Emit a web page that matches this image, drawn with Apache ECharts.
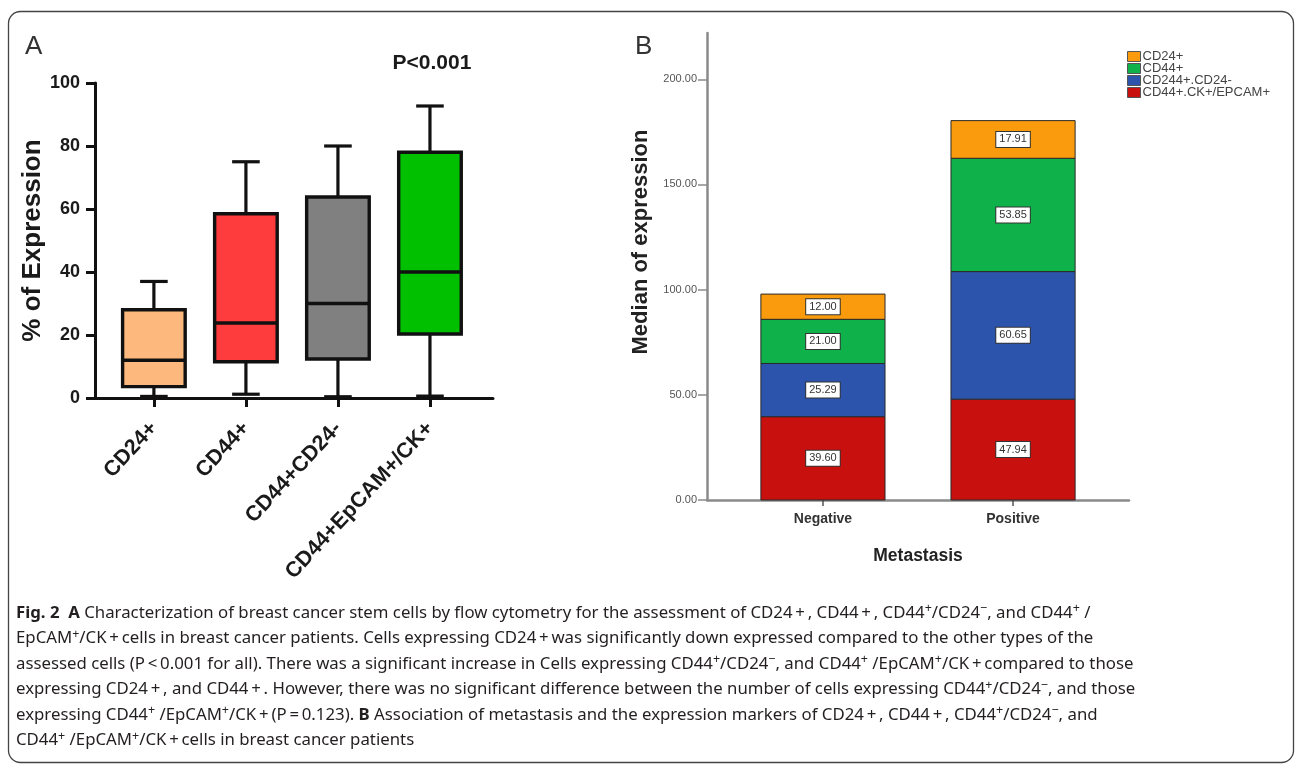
<!DOCTYPE html>
<html>
<head>
<meta charset="utf-8">
<script src="https://cdn.jsdelivr.net/npm/echarts@6/dist/echarts.min.js"></script>
<style>
html,body{margin:0;padding:0;background:#fff;}
#chart{width:1295px;height:766px;}
</style>
</head>
<body>
<div id="chart"></div>
<script>
// ---------- Panel A data (box plots, % of expression) ----------
const boxCats = ['CD24+', 'CD44+', 'CD44+CD24-', 'CD44+EpCAM+/CK+'];
const boxMin = [0.5, 1.2, 0.4, 0.6];
const boxQ1 = [3.6, 11.5, 12.4, 20.3];
const boxMedian = [12, 23.8, 30, 40];
const boxQ3 = [28, 58.5, 63.8, 78];
const boxMax = [37, 75, 80, 92.7];
const yTicksA = [0, 20, 40, 60, 80, 100];

// ---------- Panel B data (stacked median of expression) ----------
const metCats = ['Negative', 'Positive'];
const segNames = ['CD44+.CK+/EPCAM+', 'CD244+.CD24-', 'CD44+', 'CD24+']; // bottom -> top
const valCD44CK = [39.60, 47.94];
const valCD244 = [25.29, 60.65];
const valCD44 = [21.00, 53.85];
const valCD24 = [12.00, 17.91];
const yTicksB = [0, 50, 100, 150, 200];
const legendOrder = ['CD24+', 'CD44+', 'CD244+.CD24-', 'CD44+.CK+/EPCAM+'];

// ---------- styles ----------
const boxColors = ['#FDB97D', '#FE3B3D', '#808080', '#00C000'];
const segColors = ['#C8100F', '#2C54AC', '#0FB14A', '#F99B0C'];
const segValues = [valCD44CK, valCD244, valCD44, valCD24];

const chart = echarts.init(document.getElementById('chart'), null, {renderer: 'canvas'});

const boxData = boxCats.map((c, i) => [i, boxMin[i], boxQ1[i], boxMedian[i], boxQ3[i], boxMax[i]]);

function renderBox(params, api) {
  const x = api.value(0);
  const pMin = api.coord([x, api.value(1)]);
  const pQ1 = api.coord([x, api.value(2)]);
  const pMed = api.coord([x, api.value(3)]);
  const pQ3 = api.coord([x, api.value(4)]);
  const pMax = api.coord([x, api.value(5)]);
  const bw = api.size([0.68, 0])[0];
  const cw = api.size([0.30, 0])[0];
  const cx = pMin[0];
  const ls = {stroke: '#111', lineWidth: 3.2};
  return {
    type: 'group',
    children: [
      {type: 'line', shape: {x1: cx, y1: pMax[1], x2: cx, y2: pQ3[1]}, style: ls},
      {type: 'line', shape: {x1: cx, y1: pQ1[1], x2: cx, y2: pMin[1]}, style: ls},
      {type: 'line', shape: {x1: cx - cw / 2, y1: pMax[1], x2: cx + cw / 2, y2: pMax[1]}, style: ls},
      {type: 'line', shape: {x1: cx - cw / 2, y1: pMin[1], x2: cx + cw / 2, y2: pMin[1]}, style: ls},
      {type: 'rect', shape: {x: cx - bw / 2, y: pQ3[1], width: bw, height: pQ1[1] - pQ3[1]},
        style: {fill: boxColors[params.dataIndex], stroke: '#111', lineWidth: 3.4}},
      {type: 'line', shape: {x1: cx - bw / 2, y1: pMed[1], x2: cx + bw / 2, y2: pMed[1]}, style: {stroke: '#111', lineWidth: 3.6}}
    ]
  };
}

function makeSegRender(k) {
  return function (params, api) {
    const x = api.value(0);
    const p0 = api.coord([x, api.value(1)]);
    const p1 = api.coord([x, api.value(2)]);
    const w = api.size([0.653, 0])[0];
    const v = api.value(3);
    return {
      type: 'group',
      children: [
        {type: 'rect', shape: {x: p0[0] - w / 2, y: p1[1], width: w, height: p0[1] - p1[1]},
          style: {fill: segColors[k], stroke: '#2a2a2a', lineWidth: 1}},
        {type: 'text', x: p0[0], y: (p0[1] + p1[1]) / 2,
          style: {text: v.toFixed(2), align: 'center', verticalAlign: 'middle',
            font: '11px "Liberation Sans"', fill: '#333', backgroundColor: '#fff',
            borderColor: '#333', borderWidth: 1, padding: [2, 3, 2, 3]}}
      ]
    };
  };
}

const segSeries = segNames.map((n, k) => {
  const data = metCats.map((c, i) => {
    let base = 0;
    for (let j = 0; j < k; j++) base += segValues[j][i];
    return [i, base, base + segValues[k][i], segValues[k][i]];
  });
  return {
    type: 'custom', name: n, xAxisIndex: 1, yAxisIndex: 1,
    itemStyle: {color: segColors[k]},
    renderItem: makeSegRender(k),
    encode: {x: 0, y: [1, 2]},
    data: data
  };
});

const capRich = {
  b: {fontWeight: 'bold', fontSize: 16.8, fontFamily: 'Noto Sans', lineHeight: 22},
  s: {fontSize: 12.5, verticalAlign: 'top', lineHeight: 22, fontFamily: 'Noto Sans'}
};
const T = '\u2009';
const captionLines = [
  '{b|Fig. 2  A} Characterization of breast cancer stem cells by flow cytometry for the assessment of CD24' + T + '+' + T + ', CD44' + T + '+' + T + ', CD44{s|+}/CD24{s|\u2212}, and CD44{s|+} /',
  'EpCAM{s|+}/CK' + T + '+' + T + 'cells in breast cancer patients. Cells expressing CD24' + T + '+' + T + 'was significantly down expressed compared to the other types of the',
  'assessed cells (P' + T + '<' + T + '0.001 for all). There was a significant increase in Cells expressing CD44{s|+}/CD24{s|\u2212}, and CD44{s|+} /EpCAM{s|+}/CK' + T + '+' + T + 'compared to those',
  'expressing CD24' + T + '+' + T + ', and CD44' + T + '+' + T + '. However, there was no significant difference between the number of cells expressing CD44{s|+}/CD24{s|\u2212}, and those',
  'expressing CD44{s|+} /EpCAM{s|+}/CK' + T + '+' + T + '(P' + T + '=' + T + '0.123). {b|B} Association of metastasis and the expression markers of CD24' + T + '+' + T + ', CD44' + T + '+' + T + ', CD44{s|+}/CD24{s|\u2212}, and',
  'CD44{s|+} /EpCAM{s|+}/CK' + T + '+' + T + 'cells in breast cancer patients'
];
const captionY = [613, 638.5, 664, 689.5, 715, 740.5];

const graphics = [
  {type: 'rect', shape: {x: 8.5, y: 11.5, width: 1285, height: 751, r: 12},
    style: {fill: 'none', stroke: '#444', lineWidth: 1.3}, silent: true},
  {type: 'text', x: 25, y: 47, style: {text: 'A', font: '26px "Liberation Sans"', fill: '#333', verticalAlign: 'middle'}},
  {type: 'text', x: 635, y: 47, style: {text: 'B', font: '26px "Liberation Sans"', fill: '#333', verticalAlign: 'middle'}},
  {type: 'text', x: 432, y: 63, style: {text: 'P<0.001', font: 'bold 21px "Liberation Sans"', fill: '#1a1a1a', align: 'center', verticalAlign: 'middle'}},
  {type: 'text', x: 641, y: 242, rotation: Math.PI / 2,
    style: {text: 'Median of expression', font: 'bold 22px "Liberation Sans"', fill: '#222', align: 'center', verticalAlign: 'middle'}}
];
captionLines.forEach((t, i) => {
  graphics.push({type: 'text', x: 16, y: captionY[i],
    style: {text: t, rich: capRich, font: '16.8px "Noto Sans"', fill: '#231f20', verticalAlign: 'middle', lineHeight: 22}});
});

const option = {
  animation: false,
  backgroundColor: '#fff',
  grid: [
    {left: 95, top: 83, width: 398, height: 315},
    {left: 707, top: 33, width: 422, height: 467}
  ],
  legend: {
    data: legendOrder,
    orient: 'vertical', left: 1122, top: 45,
    icon: 'rect', itemWidth: 13, itemHeight: 10, itemGap: -1,
    itemStyle: {borderColor: '#555', borderWidth: 1},
    textStyle: {fontSize: 13, color: '#444', fontFamily: 'Liberation Sans', lineHeight: 11, padding: [0, 0, 0, -3]},
    selectedMode: false
  },
  xAxis: [
    {gridIndex: 0, type: 'value', min: -0.64, max: 3.685, splitLine: {show: false},
      axisLine: {show: true, onZero: false, lineStyle: {color: '#111', width: 3}},
      axisTick: {show: true, customValues: [0, 1, 2, 3], length: 9, lineStyle: {color: '#111', width: 3}},
      axisLabel: {customValues: [0, 1, 2, 3], formatter: v => boxCats[Math.round(v)], rotate: 47,
        fontSize: 21.5, fontWeight: 'bold', color: '#1a1a1a', margin: 27, fontFamily: 'Liberation Sans'}},
    {gridIndex: 1, type: 'value', min: -0.61, max: 1.61, splitLine: {show: false},
      axisLine: {show: true, onZero: false, lineStyle: {color: '#8a8a8a', width: 2.5}},
      axisTick: {show: true, customValues: [0, 1], length: 6, lineStyle: {color: '#555', width: 1.5}},
      axisLabel: {customValues: [0, 1], formatter: v => metCats[Math.round(v)], fontSize: 14, fontWeight: 'bold',
        color: '#333', margin: 12, fontFamily: 'Liberation Sans'},
      name: 'Metastasis', nameLocation: 'middle', nameGap: 47,
      nameTextStyle: {fontSize: 17.5, fontWeight: 'bold', color: '#222', fontFamily: 'Liberation Sans'}}
  ],
  yAxis: [
    {gridIndex: 0, type: 'value', min: 0, max: 100, interval: 20, splitLine: {show: false},
      axisLine: {show: true, onZero: false, lineStyle: {color: '#111', width: 3}},
      axisTick: {show: true, length: 9, lineStyle: {color: '#111', width: 3}},
      axisLabel: {fontSize: 18, fontWeight: 'bold', color: '#1a1a1a', margin: 15, fontFamily: 'Liberation Sans'},
      name: '% of Expression', nameLocation: 'middle', nameGap: 49, nameRotate: 90,
      nameTextStyle: {fontSize: 26, fontWeight: 'bold', color: '#1a1a1a', fontFamily: 'Liberation Sans'}},
    {gridIndex: 1, type: 'value', min: 0, max: 222, splitLine: {show: false},
      axisLine: {show: true, onZero: false, lineStyle: {color: '#8a8a8a', width: 2.5}},
      axisTick: {show: true, customValues: yTicksB, length: 9, lineStyle: {color: '#8a8a8a', width: 1.5}},
      axisLabel: {customValues: yTicksB, formatter: v => v.toFixed(2), fontSize: 11, color: '#555', margin: 10,
        fontFamily: 'Liberation Sans'}}
  ],
  graphic: graphics,
  series: [
    {type: 'custom', name: 'box', xAxisIndex: 0, yAxisIndex: 0, renderItem: renderBox,
      encode: {x: 0, y: [1, 2, 3, 4, 5]}, data: boxData}
  ].concat(segSeries)
};
chart.setOption(option);
</script>
</body>
</html>
